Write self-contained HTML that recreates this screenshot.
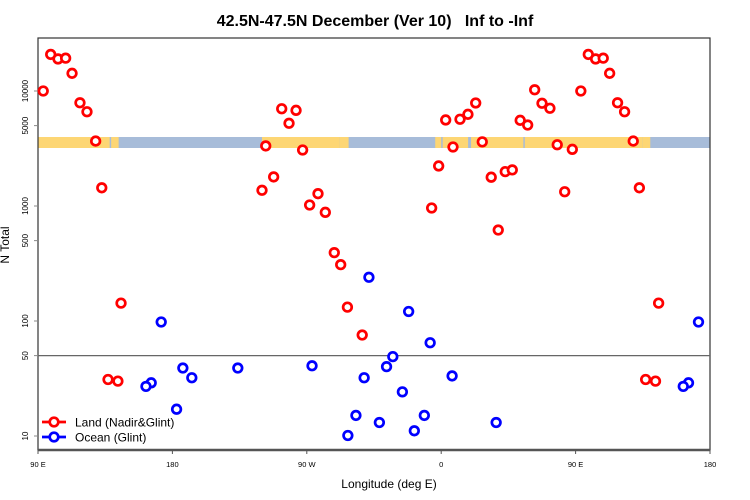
<!DOCTYPE html>
<html><head><meta charset="utf-8"><style>
body{margin:0;background:#fff}
svg{display:block;font-family:"Liberation Sans",sans-serif}
</style></head><body>
<svg id="chart" width="750" height="500" viewBox="0 0 750 500">
<text x="375" y="26" text-anchor="middle" font-size="16" font-weight="bold">42.5N-47.5N December (Ver 10)&#160;&#160; Inf to -Inf</text>
<g id="strip"></g>
<g id="axes"></g>
<g id="marks"></g>
<text x="389" y="488" text-anchor="middle" font-size="12">Longitude (deg E)</text>
<text transform="translate(9,245) rotate(-90)" text-anchor="middle" font-size="12">N Total</text>
<g>
<g>
<line x1="42" y1="422" x2="66" y2="422" stroke="#f00" stroke-width="2.7"/>
<circle cx="54" cy="422" r="4.3" fill="#fff" stroke="#f00" stroke-width="2.7"/>
<text x="75" y="426.5" font-size="12">Land (Nadir&amp;Glint)</text></g>
<g>
<line x1="42" y1="437" x2="66" y2="437" stroke="#00f" stroke-width="2.7"/>
<circle cx="54" cy="437" r="4.3" fill="#fff" stroke="#00f" stroke-width="2.7"/>
<text x="75" y="441.5" font-size="12">Ocean (Glint)</text></g>
</g>
</svg>
<script>
// longitudes unwrapped: degrees east from 90 (left edge) to 540 (=180, right edge)
const landLon = [93.5,98.5,103.4,108.5,112.8,118.1,122.8,128.6,132.7,136.9,143.5,145.6,
  240,242.5,247.8,253.2,258.1,262.8,267.2,271.9,277.5,282.4,288.4,292.7,297.2,307.1,
  353.6,358.3,363,367.9,372.6,377.9,383.1,387.5,393.5,398.2,402.9,407.6,412.9,417.9,422.6,427.5,432.8,437.7,442.7,447.8,
  453.5,458.5,463.4,468.5,472.8,478.1,482.8,488.6,492.7,496.9,503.5,505.6];
const landVal = [10000,20800,19000,19300,14250,7900,6600,3670,1440,31,30,143,
  1370,3330,1790,7010,5240,6790,3070,1020,1280,881,393,309,132,75.5,
  961,2230,5600,3260,5680,6270,7870,3610,1780,618,1990,2060,5560,5060,10250,7820,7080,3410,1330,3110,
  10000,20800,19000,19300,14250,7900,6600,3670,1440,31,30,143];
const oceanLon = [311.6,172.5,338.2,352.6,327.6,187,223.8,273.5,323.4,193,308.4,367.3,165.8,162.3,334,182.8,302.9,348.7,318.6,396.8,342,297.5,532.3,525.6,522.1];
const oceanVal = [240,98,121,64.7,49,39,39,40.8,40.1,32.1,32.1,33.3,29,27,24.2,17.1,15.1,15.1,13.1,13.1,11.1,10.1,98,29,27];
const yTicks = [10,50,100,500,1000,5000,10000];
const xTickLon = [90,180,270,360,450,540];
const xTickLab = ["90 E","180","90 W","0","90 E","180"];
// land (yellow) segments along strip, in unwrapped longitude
const landSeg = [[90,138],[139,144],[240,292],[292,298],[356,360],[361,378],[380,415],[416,495],[495,500]];

const NS="http://www.w3.org/2000/svg";
const L=38,R=710,T=38,B=450;
function xs(lon){return L+(lon-90)*(R-L)/450;}
function ys(v){return 436-115*(Math.log10(v)-1);}
function mk(tag,attrs,parent){const e=document.createElementNS(NS,tag);for(const k in attrs)e.setAttribute(k,attrs[k]);parent.appendChild(e);return e;}

const strip=document.getElementById('strip');
let bg=mk('rect',{x:L,y:137,width:R-L,height:11,fill:'#a7bcd9'},strip);


landSeg.forEach(s=>{
  const r=mk('rect',{x:xs(s[0]),y:137,width:xs(s[1])-xs(s[0]),height:11,fill:'#fdd674'},strip);
  
  
});

const ax=document.getElementById('axes');
mk('rect',{x:L,y:T,width:R-L,height:B-T,fill:'none',stroke:'#333','stroke-width':1.2},ax);
mk('line',{x1:L,y1:B,x2:R,y2:B,stroke:'#555','stroke-width':2.5},ax);
const ref=mk('line',{x1:L,y1:ys(50),x2:R,y2:ys(50),stroke:'#666','stroke-width':1.3},ax);


yTicks.forEach(v=>{
  const y=ys(v);
  mk('line',{x1:L-4,y1:y,x2:L,y2:y,stroke:'#888'},ax);
  const t=mk('text',{transform:`translate(28,${y}) rotate(-90)`,'text-anchor':'middle','font-size':8},ax);
  t.textContent=v;
  
  
});
xTickLon.forEach((lon,i)=>{
  const x=xs(lon);
  mk('line',{x1:x,y1:B,x2:x,y2:B+4,stroke:'#555'},ax);
  const t=mk('text',{x:x,y:467,'text-anchor':'middle','font-size':7.5},ax);
  t.textContent=xTickLab[i];
  
  
});

const marks=document.getElementById('marks');
function pts(lons,vals,col,name){
  lons.forEach((lon,i)=>{
    const c=mk('circle',{cx:xs(lon),cy:ys(vals[i]),r:4.3,fill:'#fff',stroke:col,'stroke-width':2.7},marks);
    
    
  });
}
pts(landLon,landVal,'#f00','land-point');
pts(oceanLon,oceanVal,'#00f','ocean-point');
</script>
</body></html>
